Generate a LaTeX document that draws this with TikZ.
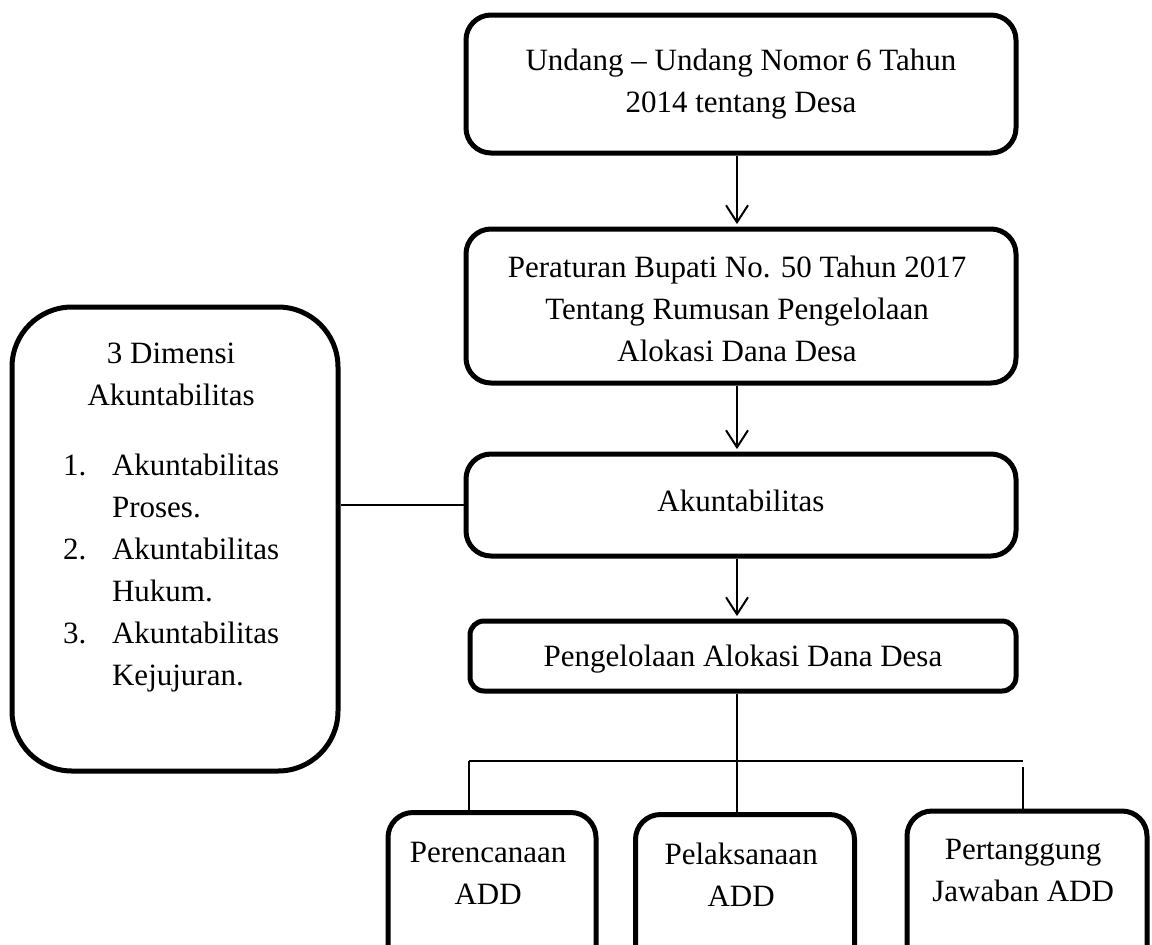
\documentclass[tikz,border=0pt]{standalone}
\usepackage{fontspec}
\setmainfont{Liberation Serif}
\usetikzlibrary{arrows.meta}

% raise the text without changing the size of its box
\newcommand{\lift}[2]{\raisebox{#1}[\height][\depth]{#2}}

\begin{document}
\begin{tikzpicture}[x=0.5pt, y=-0.5pt,
  font=\fontsize{15.5}{21}\selectfont,
  box/.style={draw, line width=2.5pt, rounded corners=12.5pt, align=center, inner sep=0pt},
  link/.style={line width=1pt},
  arr/.style={link, shorten >=1.2pt, -{Straight Barb[length=8.5pt, width=11pt]}}]
  \useasboundingbox (0,0) rectangle (1152,944);

  \node[box, minimum width=275pt, minimum height=69pt] (uu) at (741,84) {
    Undang -- Undang Nomor 6 Tahun\\
    2014 tentang Desa
  };
  \node[box, minimum width=275pt, minimum height=77pt] (perbup) at (741,306) {
    \lift{-2.5pt}{\begin{tabular}{@{}c@{}}
    Peraturan Bupati No. 50 Tahun 2017\\
    Tentang Rumusan Pengelolaan\\
    Alokasi Dana Desa
    \end{tabular}}
  };
  \node[box, minimum width=275pt, minimum height=51pt] (akun) at (741,505) {\lift{2pt}{Akuntabilitas}};
  \node[box, rounded corners=7pt, minimum width=273pt, minimum height=35pt] (pengelolaan) at (743,656) {\lift{-1.5pt}{Pengelolaan Alokasi Dana Desa}};

  \node[box, rounded corners=30pt, minimum width=163pt, minimum height=232pt] (dimensi) at (175,539) {
    \lift{11.5pt}{\begin{tabular}{@{}l@{}l@{}}
    \multicolumn{2}{c}{3 Dimensi}\\
    \multicolumn{2}{c}{Akuntabilitas}\\[14pt]
    \makebox[24.5pt][l]{1.} & Akuntabilitas\\
     & Proses.\\
    \makebox[24.5pt][l]{2.} & Akuntabilitas\\
     & Hukum.\\
    \makebox[24.5pt][l]{3.} & Akuntabilitas\\
     & Kejujuran.
    \end{tabular}}
  };

  % bottom row, cut off by the page edge
  \node[box, minimum width=104pt, minimum height=88.5pt] (perencanaan) at (492,901) {
    \lift{13pt}{\begin{tabular}{@{}c@{}}Perencanaan\\ADD\end{tabular}}
  };
  \node[box, minimum width=109.5pt, minimum height=87.5pt] (pelaksanaan) at (745,902) {
    \lift{12.5pt}{\begin{tabular}{@{}c@{}}Pelaksanaan\\ADD\end{tabular}}
  };
  \node[box, minimum width=120pt, minimum height=89pt] (pertanggung) at (1027,900) {
    \lift{14pt}{\begin{tabular}{@{}c@{}}Pertanggung\\Jawaban ADD\end{tabular}}
  };

  \coordinate (spine) at (737,0);
  \coordinate (branchL) at (469,761);
  \coordinate (branchR) at (1023,761);

  \draw[arr] (uu.south -| spine) -- (perbup.north -| spine);
  \draw[arr] (perbup.south -| spine) -- (akun.north -| spine);
  \draw[arr] (akun.south -| spine) -- (pengelolaan.north -| spine);
  \draw[link] (akun.west) -- (akun.west -| dimensi.east);

  \draw[link] (pengelolaan.south -| spine) -- (pelaksanaan.north -| spine);
  \draw[link] (branchL) -- (branchR);
  \draw[link] (branchL) -- (branchL |- perencanaan.north);
  \draw[link] ([yshift=-3pt]branchR) -- (branchR |- pertanggung.north);
\end{tikzpicture}
\end{document}
